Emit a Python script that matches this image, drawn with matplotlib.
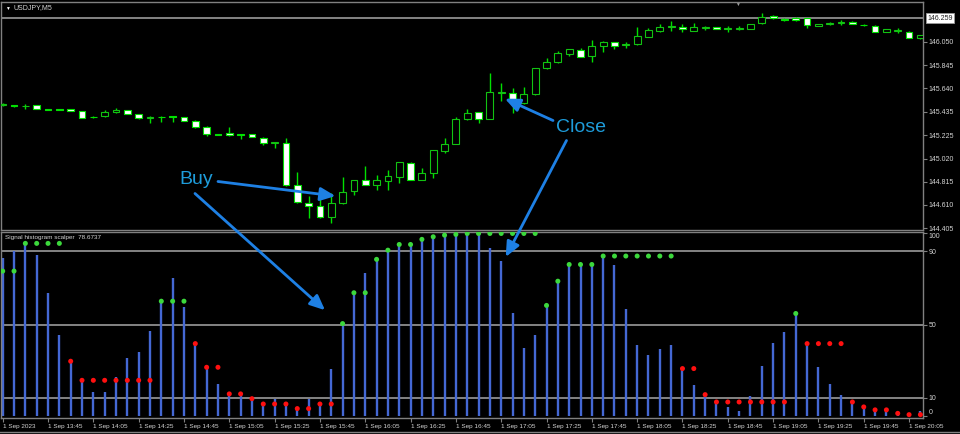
import matplotlib
matplotlib.use('Agg')
import matplotlib.pyplot as plt
from matplotlib.patches import Rectangle, ConnectionPatch
from matplotlib.lines import Line2D
import numpy as np

plt.rcParams['font.family'] = ['Liberation Sans', 'DejaVu Sans']

symbol_title = 'USDJPY,M5'
indicator_title = 'Signal histogram scalper  78.6737'

# USDJPY M5 candles, 1 Sep 2023 13:25 .. 20:10
opens = [145.489, 145.489, 145.480, 145.491, 145.458, 145.455, 145.454, 145.440, 145.390, 145.394,
         145.431, 145.446, 145.411, 145.378, 145.389, 145.392, 145.387, 145.355, 145.302, 145.237,
         145.246, 145.234, 145.237, 145.204, 145.158, 145.155, 144.787, 144.625, 144.604, 144.501,
         144.625, 144.734, 144.831, 144.787, 144.825, 144.860, 144.984, 144.831, 144.890, 145.090,
         145.149, 145.367, 145.429, 145.370, 145.602, 145.597, 145.508, 145.588, 145.818, 145.871,
         145.944, 145.979, 145.929, 146.015, 146.050, 146.027, 146.030, 146.097, 146.144, 146.182,
         146.185, 146.150, 146.174, 146.182, 146.165, 146.168, 146.165, 146.215, 146.280, 146.256,
         146.259, 146.259, 146.191, 146.212, 146.221, 146.229, 146.203, 146.194, 146.141, 146.147,
         146.141, 146.083]
highs = [145.507, 145.493, 145.498, 145.493, 145.461, 145.458, 145.458, 145.443, 145.392, 145.452,
         145.467, 145.449, 145.414, 145.394, 145.392, 145.394, 145.390, 145.358, 145.305, 145.240,
         145.302, 145.237, 145.240, 145.208, 145.169, 145.199, 144.904, 144.689, 144.713, 144.713,
         144.855, 144.833, 144.954, 144.875, 144.919, 144.990, 144.987, 144.934, 145.098, 145.199,
         145.390, 145.455, 145.431, 145.779, 145.685, 145.641, 145.650, 145.820, 145.906, 145.970,
         145.988, 146.000, 146.068, 146.056, 146.053, 146.047, 146.185, 146.171, 146.209, 146.238,
         146.209, 146.215, 146.194, 146.185, 146.191, 146.191, 146.212, 146.303, 146.288, 146.259,
         146.268, 146.262, 146.212, 146.229, 146.244, 146.233, 146.209, 146.197, 146.165, 146.171,
         146.144, 146.114]
lows = [145.484, 145.476, 145.462, 145.458, 145.449, 145.446, 145.440, 145.378, 145.381, 145.390,
        145.425, 145.411, 145.370, 145.334, 145.346, 145.346, 145.352, 145.290, 145.219, 145.228,
        145.222, 145.190, 145.211, 145.140, 145.111, 144.782, 144.630, 144.492, 144.498, 144.448,
        144.621, 144.698, 144.784, 144.742, 144.742, 144.802, 144.828, 144.828, 144.846, 145.067,
        145.146, 145.363, 145.337, 145.367, 145.531, 145.425, 145.505, 145.584, 145.814, 145.867,
        145.926, 145.917, 145.876, 145.964, 145.988, 146.000, 146.026, 146.094, 146.141, 146.147,
        146.136, 146.147, 146.156, 146.162, 146.136, 146.153, 146.162, 146.212, 146.256, 146.238,
        146.235, 146.171, 146.189, 146.200, 146.200, 146.206, 146.191, 146.138, 146.138, 146.127,
        146.085, 146.079]
closes = [145.498, 145.480, 145.484, 145.461, 145.452, 145.449, 145.443, 145.381, 145.385, 145.431,
          145.449, 145.414, 145.381, 145.383, 145.385, 145.387, 145.355, 145.295, 145.237, 145.231,
          145.226, 145.229, 145.213, 145.155, 145.162, 144.787, 144.634, 144.604, 144.501, 144.625,
          144.727, 144.831, 144.787, 144.831, 144.866, 144.987, 144.831, 144.890, 145.096, 145.146,
          145.367, 145.420, 145.370, 145.606, 145.608, 145.538, 145.591, 145.818, 145.876, 145.950,
          145.985, 145.920, 146.015, 146.053, 146.017, 146.032, 146.103, 146.156, 146.180, 146.188,
          146.162, 146.185, 146.179, 146.165, 146.170, 146.174, 146.209, 146.273, 146.259, 146.242,
          146.242, 146.200, 146.209, 146.218, 146.227, 146.209, 146.197, 146.141, 146.162, 146.152,
          146.088, 146.112]

# Signal histogram scalper: histogram bars and signal dots
hist_values = [86, 90, 95, 88, 67, 44.5, 29, 19, 13, 13.5,
               21.5, 32, 35, 46.7, 62.7, 75.5, 59.6, 39.6, 26.4, 17.8,
               12.2, 11.8, 9.6, 6.4, 9.6, 6.4, 3.6, 9.6, 6.7, 25.5,
               50.5, 67.3, 78.2, 85.5, 90.5, 93.6, 93.6, 96.4, 97.8, 98.7,
               99.1, 99.6, 99.6, 91.8, 84.5, 56.4, 37.3, 44.5, 60.4, 73.6,
               82.7, 82.7, 82.7, 87.3, 82.4, 58.7, 39.1, 33.3, 36.9, 39.1,
               26, 17.3, 11.8, 7.8, 4.9, 3.1, 11.3, 27.5, 40.2, 46,
               56, 39.6, 26.7, 17.8, 11.5, 7.8, 5.1, 3.5, 3.5, 1.6,
               0.9, 3.1]
signal_dots = [79.1, 79.1, 94.2, 94.2, 94.2, 94.2, 30, 19.6, 19.6, 19.6,
               19.6, 19.6, 19.6, 19.6, 62.7, 62.7, 62.7, 39.6, 26.7, 26.7,
               12.2, 12.2, 9.6, 6.7, 6.7, 6.7, 4.2, 4.2, 6.7, 6.7,
               50.5, 67.3, 67.3, 85.5, 90.5, 93.6, 93.6, 96.4, 97.8, 98.7,
               99.1, 99.6, 99.6, 99.6, 99.6, 99.6, 99.6, 99.6, 60.4, 73.6,
               82.7, 82.7, 82.7, 87.3, 87.3, 87.3, 87.3, 87.3, 87.3, 87.3,
               26, 26, 11.8, 7.8, 7.8, 7.8, 7.8, 7.8, 7.8, 7.8,
               56, 39.6, 39.6, 39.6, 39.6, 7.8, 5.1, 3.5, 3.5, 1.6,
               0.9, 0.9]

time_labels = ['1 Sep 2023', '1 Sep 13:45', '1 Sep 14:05', '1 Sep 14:25', '1 Sep 14:45',
               '1 Sep 15:05', '1 Sep 15:25', '1 Sep 15:45', '1 Sep 16:05', '1 Sep 16:25',
               '1 Sep 16:45', '1 Sep 17:05', '1 Sep 17:25', '1 Sep 17:45', '1 Sep 18:05',
               '1 Sep 18:25', '1 Sep 18:45', '1 Sep 19:05', '1 Sep 19:25', '1 Sep 19:45',
               '1 Sep 20:05']
price_ticks = [146.050, 145.845, 145.640, 145.435, 145.225, 145.020, 144.815, 144.610, 144.405]
marked_price = 146.259
level_values = [90, 50, 10]
osc_ticks = [0, 10, 50, 90, 100]

# ---- styling ----
LIME = '#00E000'
BODY_EDGE = '#12C212'
GRID = '#9A9A9A'
FRAME = '#808080'
TXT = '#D4D4D4'
BAR_BLUE = '#4468D4'
DOT_GREEN = '#3CD83C'
DOT_RED = '#FF1010'
ARROW = '#1E80E4'
NOTE = '#1E9CDA'

W, H = 960, 434
fig = plt.figure(figsize=(W / 100, H / 100), dpi=100, facecolor='black')


def fx(px):
    return px / W


def fy(py):
    return 1 - py / H


ax_p = fig.add_axes([fx(1), fy(230), (923 - 1) / W, (230 - 2) / H])
ax_o = fig.add_axes([fx(1), fy(418), (923 - 1) / W, (418 - 232) / H])

n = len(opens)
x = np.arange(n)
for ax in (ax_p, ax_o):
    ax.set_facecolor('black')
    ax.set_xlim(-0.15, 81.23)
    for s in ax.spines.values():
        s.set_color(FRAME)
        s.set_linewidth(1)

# ---- price pane ----
ax_p.set_ylim(144.389, 146.403)
ax_p.vlines(x, lows, highs, color=LIME, lw=1, zorder=2)
for i in x:
    o, c = opens[i], closes[i]
    lo, hi = min(o, c), max(o, c)
    bull = c > o
    ax_p.add_patch(Rectangle((i - 0.3, lo), 0.6, max(hi - lo, 0.0004),
                             facecolor='black' if bull else 'white',
                             edgecolor=BODY_EDGE if bull else LIME, lw=0.8, zorder=3))

ax_p.axhline(marked_price, color=GRID, lw=1.2, zorder=1)
ax_p.set_xticks([])
ax_p.set_yticks(price_ticks)
ax_p.set_yticklabels([f'{p:.3f}' for p in price_ticks])
ax_p.tick_params(axis='y', left=False, labelleft=False, right=True, labelright=True,
                 length=3, width=0.8, color=FRAME, labelcolor=TXT, labelsize=5, pad=1)
ax_p.annotate(f'{marked_price:.3f}', xy=(1, marked_price), xycoords=('axes fraction', 'data'),
              xytext=(3, 0), textcoords='offset points', ha='left', va='center',
              fontsize=5, color='#202020', annotation_clip=False,
              bbox=dict(boxstyle='square,pad=0.2', fc='white', ec=GRID, lw=0.6))

# ---- oscillator pane ----
ax_o.set_ylim(-0.93, 100.4)
for lv in level_values:
    ax_o.axhline(lv, color=GRID, lw=1.2, zorder=1)
ax_o.vlines(x, 0, hist_values, color=BAR_BLUE, lw=1.7, zorder=2)
dot_colors = [DOT_GREEN if v >= 50 else DOT_RED for v in signal_dots]
ax_o.scatter(x, signal_dots, s=13, c=dot_colors, linewidths=0, zorder=3)

ax_o.set_yticks(osc_ticks)
ax_o.set_yticklabels([str(v) for v in osc_ticks])
ax_o.tick_params(axis='y', left=False, labelleft=False, right=True, labelright=True,
                 length=3, width=0.8, color=FRAME, labelcolor=TXT, labelsize=5, pad=1)
yt = ax_o.yaxis.get_major_ticks()
yt[0].label2.set_va('bottom')
yt[-1].label2.set_va('top')

ax_o.set_xticks(np.arange(0, n, 4)[:len(time_labels)])
ax_o.set_xticklabels(time_labels, ha='left')
ax_o.tick_params(axis='x', length=3, width=0.8, color=FRAME, labelcolor=TXT,
                 labelsize=4.6, pad=1)

# ---- window furniture ----
fig.add_artist(Line2D([0, 1], [fy(432), fy(432)], transform=fig.transFigure,
                      color=FRAME, lw=1))
fig.text(fx(7), fy(8), '▼', fontsize=3.5, color='white', ha='center', va='center')
fig.text(fx(13), fy(8), symbol_title, fontsize=5, color=TXT, ha='left', va='center')
fig.text(fx(737), fy(4), '▼', fontsize=3.5, color='#A0A0A0', ha='center', va='center')
fig.text(fx(5), fy(237), indicator_title, fontsize=4.6, color=TXT, ha='left', va='center')

# ---- annotations ----
def pointer(tail_px, ax, head):
    cp = ConnectionPatch(xyA=(tail_px[0], H - tail_px[1]), coordsA='figure pixels',
                         xyB=head, coordsB=ax.transData,
                         arrowstyle='-|>,head_length=0.9,head_width=0.4',
                         color=ARROW, lw=2, mutation_scale=10, zorder=5)
    fig.add_artist(cp)


pointer((218, 181.5), ax_p, (29.37, 144.689))
pointer((195, 193.5), ax_o, (28.45, 57.8))
pointer((553, 120.5), ax_p, (44.33, 145.549))
pointer((566.5, 140.5), ax_o, (44.4, 86.8))

fig.text(fx(179), fy(184), 'Buy', fontsize=14, color=NOTE, ha='left', va='baseline')
fig.text(fx(556), fy(131.7), 'Close', fontsize=14, color=NOTE, ha='left', va='baseline')

fig.savefig('out.png', dpi=100, facecolor='black')
